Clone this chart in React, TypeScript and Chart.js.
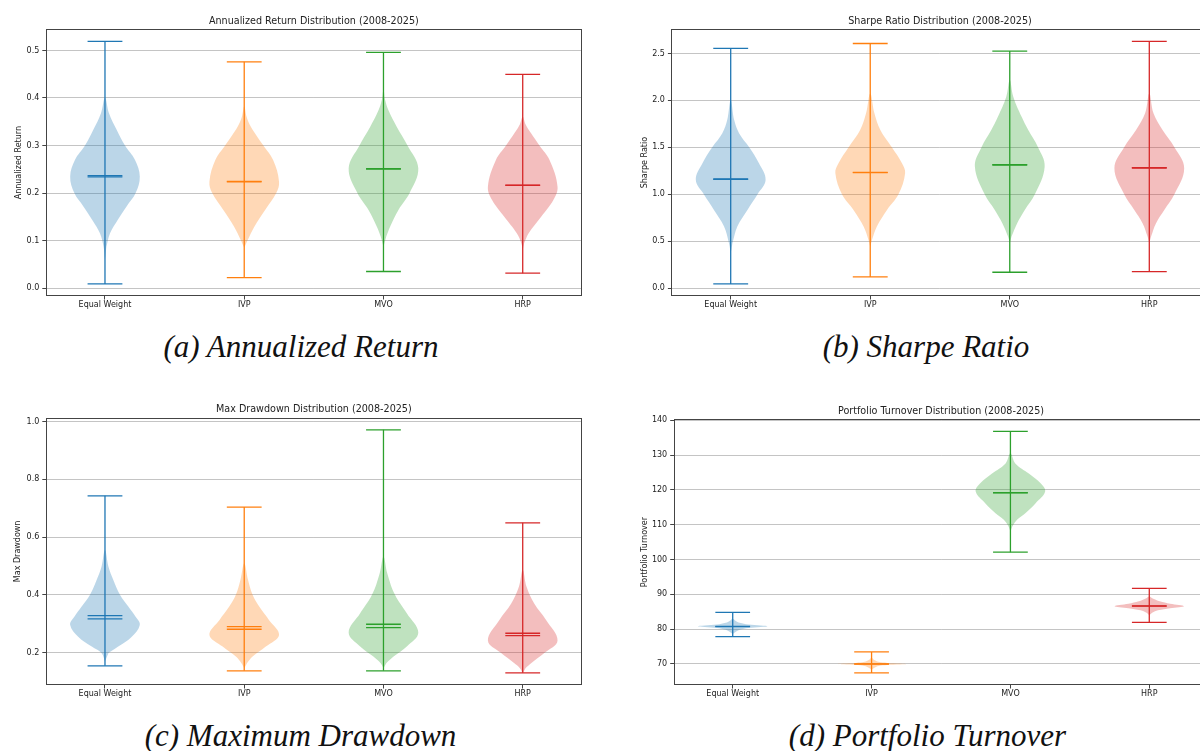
import React, { useEffect, useRef } from 'react';
import { Chart, registerables } from 'chart.js';

Chart.register(...registerables);

// ---------------- data ----------------
const strategies = ['Equal Weight', 'IVP', 'MVO', 'HRP'];
const positions = [1, 2, 3, 4];

// (a) Annualized Return
const returnMin = [0.009, 0.0223, 0.035, 0.0315];
const returnMax = [0.519, 0.476, 0.496, 0.4496];
const returnMean = [0.2365, 0.2248, 0.2513, 0.2168];
const returnMedian = [0.234, 0.2235, 0.2505, 0.216];
const returnLevels = [
  [0.06, 0.087, 0.1155, 0.1435, 0.172, 0.2, 0.235, 0.27, 0.3, 0.333, 0.368, 0.4],
  [0.085, 0.1015, 0.1294, 0.1645, 0.2, 0.224, 0.2695, 0.3, 0.3395, 0.36, 0.382],
  [0.087, 0.1085, 0.1294, 0.1645, 0.2, 0.252, 0.3, 0.3395, 0.3746, 0.395, 0.417],
  [0.08, 0.0945, 0.1155, 0.1504, 0.1855, 0.2135, 0.2695, 0.3, 0.3256, 0.345, 0.3605],
];
const returnWidths = [
  [0, 0.04, 0.145, 0.365, 0.62, 0.88, 1.0, 0.86, 0.575, 0.335, 0.115, 0],
  [0, 0.1, 0.29, 0.6, 0.92, 1.0, 0.83, 0.55, 0.19, 0.07, 0],
  [0, 0.08, 0.19, 0.43, 0.75, 1.0, 0.69, 0.38, 0.14, 0.05, 0],
  [0, 0.04, 0.17, 0.53, 0.88, 1.0, 0.77, 0.48, 0.24, 0.08, 0],
];
const returnTicks = [0, 0.1, 0.2, 0.3, 0.4, 0.5];
const returnTickLabels = ['0.0', '0.1', '0.2', '0.3', '0.4', '0.5'];

// (b) Sharpe Ratio
const sharpeMin = [0.046, 0.12, 0.17, 0.177];
const sharpeMax = [2.553, 2.606, 2.525, 2.628];
const sharpeMean = [1.163, 1.234, 1.316, 1.284];
const sharpeMedian = [1.158, 1.231, 1.312, 1.28];
const sharpeLevels = [
  [0.372, 0.479, 0.656, 0.833, 1.0, 1.152, 1.33, 1.5, 1.65, 1.79, 2.0],
  [0.443, 0.514, 0.656, 0.833, 1.0, 1.223, 1.33, 1.5, 1.684, 1.862, 2.074],
  [0.48, 0.55, 0.69, 0.833, 1.0, 1.294, 1.5, 1.684, 1.826, 2.04, 2.216],
  [0.48, 0.55, 0.69, 0.833, 1.0, 1.277, 1.5, 1.684, 1.862, 2.074],
];
const sharpeWidths = [
  [0, 0.05, 0.19, 0.48, 0.77, 1.0, 0.81, 0.53, 0.24, 0.1, 0],
  [0, 0.05, 0.19, 0.48, 0.81, 1.0, 0.91, 0.62, 0.29, 0.12, 0],
  [0, 0.05, 0.21, 0.43, 0.72, 1.0, 0.81, 0.53, 0.34, 0.1, 0],
  [0, 0.05, 0.19, 0.43, 0.72, 1.0, 0.72, 0.38, 0.12, 0],
];
const sharpeTicks = [0, 0.5, 1.0, 1.5, 2.0, 2.5];
const sharpeTickLabels = ['0.0', '0.5', '1.0', '1.5', '2.0', '2.5'];

// (c) Max Drawdown
const drawdownMin = [0.154, 0.1366, 0.1366, 0.1297];
const drawdownMax = [0.7426, 0.7035, 0.971, 0.649];
const drawdownMean = [0.3279, 0.29, 0.298, 0.2668];
const drawdownMedian = [0.3164, 0.2806, 0.2864, 0.2588];
const drawdownLevels = [
  [0.169, 0.198, 0.2207, 0.255, 0.2956, 0.324, 0.359, 0.4, 0.451, 0.497, 0.555],
  [0.146, 0.163, 0.186, 0.2207, 0.261, 0.313, 0.359, 0.4, 0.451, 0.509],
  [0.146, 0.163, 0.186, 0.2207, 0.269, 0.336, 0.4, 0.474, 0.532],
  [0.1286, 0.146, 0.163, 0.198, 0.2415, 0.313, 0.37, 0.428, 0.486],
];
const drawdownWidths = [
  [0, 0.1, 0.38, 0.77, 1.0, 0.88, 0.67, 0.43, 0.24, 0.1, 0],
  [0, 0.08, 0.24, 0.62, 1.0, 0.71, 0.43, 0.24, 0.11, 0],
  [0, 0.08, 0.29, 0.67, 1.0, 0.67, 0.33, 0.11, 0],
  [0, 0.08, 0.24, 0.62, 1.0, 0.67, 0.33, 0.11, 0],
];
const drawdownTicks = [0.2, 0.4, 0.6, 0.8, 1.0];
const drawdownTickLabels = ['0.2', '0.4', '0.6', '0.8', '1.0'];

// (d) Portfolio Turnover
const turnoverMin = [77.83, 67.42, 102.1, 81.94];
const turnoverMax = [84.8, 73.44, 136.8, 91.68];
const turnoverMean = [80.79, 70.0, 119.2, 86.7];
const turnoverMedian = [80.7, 69.95, 119.15, 86.6];
const turnoverLevels = [
  [78.6, 79.2, 79.8, 80.3, 80.8, 81.3, 81.8, 82.4, 83.0],
  [68.3, 68.9, 69.4, 69.7, 70.0, 70.3, 70.6, 71.1, 71.8],
  [108.0, 109.4, 111.4, 113.3, 116.1, 119.5, 121.9, 124.7, 127.6, 130.5],
  [84.0, 84.7, 85.4, 86.0, 86.6, 87.3, 88.0, 88.8, 89.4],
];
const turnoverWidths = [
  [0, 0.08, 0.2, 0.45, 1.0, 0.45, 0.2, 0.08, 0],
  [0, 0.08, 0.2, 0.45, 1.0, 0.45, 0.2, 0.08, 0],
  [0, 0.05, 0.19, 0.43, 0.72, 1.0, 0.87, 0.53, 0.14, 0],
  [0, 0.08, 0.25, 0.6, 1.0, 0.6, 0.3, 0.1, 0],
];
const turnoverTicks = [70, 80, 90, 100, 110, 120, 130, 140];
const turnoverTickLabels = ['70', '80', '90', '100', '110', '120', '130', '140'];

// ---------------- style ----------------
const COLORS = ['#1f77b4', '#ff7f0e', '#2ca02c', '#d62728'];
const BODY_COLORS = [
  'rgba(31,119,180,0.3)',
  'rgba(255,127,14,0.3)',
  'rgba(44,160,44,0.3)',
  'rgba(214,39,40,0.3)',
];
const HALF_WIDTH = 0.25;
const CAP_HALF = 0.125;
const FONT = 'DejaVu Sans';
const TEXT = '#222222';

type Box = { left: number; top: number; w: number; h: number };
type Area = { left: number; top: number; right: number; bottom: number };

type PanelSpec = {
  title: string;
  ylabel: string;
  min: number[];
  max: number[];
  mean: number[];
  median: number[];
  levels: number[][];
  widths: number[][];
  ticks: number[];
  tickLabels: string[];
  box: Box;
  area: Area;
  ylabelX: number;
  titleY: number;
};

const panels: PanelSpec[] = [
  {
    title: 'Annualized Return Distribution (2008-2025)',
    ylabel: 'Annualized Return',
    min: returnMin, max: returnMax, mean: returnMean, median: returnMedian,
    levels: returnLevels, widths: returnWidths,
    ticks: returnTicks, tickLabels: returnTickLabels,
    box: { left: 0, top: 0, w: 600, h: 320 },
    area: { left: 45.8, top: 29.3, right: 581.9, bottom: 296 },
    ylabelX: 18.5, titleY: 21,
  },
  {
    title: 'Sharpe Ratio Distribution (2008-2025)',
    ylabel: 'Sharpe Ratio',
    min: sharpeMin, max: sharpeMax, mean: sharpeMean, median: sharpeMedian,
    levels: sharpeLevels, widths: sharpeWidths,
    ticks: sharpeTicks, tickLabels: sharpeTickLabels,
    box: { left: 600, top: 0, w: 620, h: 320 },
    area: { left: 71.4, top: 29.3, right: 608.6, bottom: 296 },
    ylabelX: 44.8, titleY: 21,
  },
  {
    title: 'Max Drawdown Distribution (2008-2025)',
    ylabel: 'Max Drawdown',
    min: drawdownMin, max: drawdownMax, mean: drawdownMean, median: drawdownMedian,
    levels: drawdownLevels, widths: drawdownWidths,
    ticks: drawdownTicks, tickLabels: drawdownTickLabels,
    box: { left: 0, top: 390, w: 600, h: 320 },
    area: { left: 45.8, top: 27.7, right: 581.9, bottom: 295 },
    ylabelX: 18.4, titleY: 19,
  },
  {
    title: 'Portfolio Turnover Distribution (2008-2025)',
    ylabel: 'Portfolio Turnover',
    min: turnoverMin, max: turnoverMax, mean: turnoverMean, median: turnoverMedian,
    levels: turnoverLevels, widths: turnoverWidths,
    ticks: turnoverTicks, tickLabels: turnoverTickLabels,
    box: { left: 600, top: 390, w: 620, h: 320 },
    area: { left: 73.7, top: 29.3, right: 608.3, bottom: 295 },
    ylabelX: 44.8, titleY: 21,
  },
];

const captions = [
  { text: '(a) Annualized Return', cx: 301, top: 331 },
  { text: '(b) Sharpe Ratio', cx: 926, top: 331 },
  { text: '(c) Maximum Drawdown', cx: 300.5, top: 720 },
  { text: '(d) Portfolio Turnover', cx: 927.5, top: 720 },
];

// ---------------- chart config ----------------
function segment(points: { x: number; y: number }[], color: string) {
  return {
    type: 'line' as const,
    data: points,
    borderColor: color,
    borderWidth: 1.3,
    pointRadius: 0,
    pointHoverRadius: 0,
    fill: false,
    tension: 0,
    order: 0,
  };
}

function buildConfig(p: PanelSpec): any {
  const datasets: any[] = [];
  positions.forEach((pos, i) => {
    const lv = p.levels[i];
    const w = p.widths[i];
    const left = lv.map((v, k) => ({ x: pos - w[k] * HALF_WIDTH, y: v }));
    const right: { x: number; y: number }[] = [];
    for (let k = lv.length - 2; k >= 1; k--) right.push({ x: pos + w[k] * HALF_WIDTH, y: lv[k] });
    datasets.push({
      type: 'line',
      data: [...left, ...right],
      fill: 'shape',
      backgroundColor: BODY_COLORS[i],
      borderColor: 'rgba(0,0,0,0)',
      borderWidth: 0,
      pointRadius: 0,
      pointHoverRadius: 0,
      tension: 0.38,
      order: 2,
    });
    const c = COLORS[i];
    datasets.push(segment([{ x: pos, y: p.min[i] }, { x: pos, y: p.max[i] }], c));
    datasets.push(segment([{ x: pos - CAP_HALF, y: p.min[i] }, { x: pos + CAP_HALF, y: p.min[i] }], c));
    datasets.push(segment([{ x: pos - CAP_HALF, y: p.max[i] }, { x: pos + CAP_HALF, y: p.max[i] }], c));
    datasets.push(segment([{ x: pos - CAP_HALF, y: p.mean[i] }, { x: pos + CAP_HALF, y: p.mean[i] }], c));
    datasets.push(segment([{ x: pos - CAP_HALF, y: p.median[i] }, { x: pos + CAP_HALF, y: p.median[i] }], c));
  });

  const lo = Math.min(...p.min);
  const hi = Math.max(...p.max);
  const margin = (hi - lo) * 0.05;
  const xLo = positions[0] - HALF_WIDTH;
  const xHi = positions[positions.length - 1] + HALF_WIDTH;
  const xMargin = (xHi - xLo) * 0.05;

  const titleFont = { family: FONT, size: 9.6, weight: 'normal' as const, lineHeight: 1.2 };
  const titleLH = 9.6 * 1.2;

  const framePlugin = {
    id: 'frame',
    afterDraw(chart: any) {
      const { ctx, chartArea } = chart;
      ctx.save();
      ctx.strokeStyle = '#444444';
      ctx.lineWidth = 1;
      const l = Math.round(chartArea.left) + 0.5;
      const t = Math.round(chartArea.top) + 0.5;
      const r = Math.round(chartArea.right) - 0.5;
      const b = Math.round(chartArea.bottom) - 0.5;
      ctx.strokeRect(l, t, r - l, b - t);
      ctx.restore();
    },
  };

  return {
    type: 'line',
    data: { datasets },
    plugins: [framePlugin],
    options: {
      animation: false,
      responsive: false,
      events: [],
      layout: {
        padding: { left: 0, top: 0, bottom: 0, right: p.box.w - p.area.right },
      },
      plugins: {
        legend: { display: false },
        tooltip: { enabled: false },
        title: {
          display: true,
          text: p.title,
          color: TEXT,
          font: titleFont,
          fullSize: false,
          padding: { top: p.titleY - titleLH / 2, bottom: p.area.top - p.titleY - titleLH / 2 },
        },
      },
      scales: {
        x: {
          type: 'linear',
          min: xLo - xMargin,
          max: xHi + xMargin,
          afterBuildTicks: (s: any) => {
            s.ticks = positions.map((v) => ({ value: v }));
          },
          afterFit: (s: any) => {
            s.height = p.box.h - p.area.bottom;
          },
          ticks: {
            callback: (_v: any, i: number) => strategies[i],
            color: TEXT,
            font: { family: FONT, size: 8 },
            padding: 1,
            maxRotation: 0,
            autoSkip: false,
          },
          grid: {
            drawOnChartArea: false,
            drawTicks: true,
            tickLength: 3.5,
            tickColor: '#444444',
            tickWidth: 1,
          },
          border: { display: false },
        },
        y: {
          type: 'linear',
          min: lo - margin,
          max: hi + margin,
          afterBuildTicks: (s: any) => {
            s.ticks = p.ticks.map((v) => ({ value: v }));
          },
          afterFit: (s: any) => {
            s.width = p.area.left;
          },
          ticks: {
            callback: (_v: any, i: number) => p.tickLabels[i],
            color: TEXT,
            font: { family: FONT, size: 8 },
            padding: 3,
            autoSkip: false,
          },
          grid: {
            color: 'rgba(176,176,176,0.75)',
            lineWidth: 1,
            drawTicks: true,
            tickLength: 3.5,
            tickColor: '#444444',
            tickWidth: 1,
          },
          border: { display: false },
          title: {
            display: true,
            text: p.ylabel,
            color: TEXT,
            font: { family: FONT, size: 8, lineHeight: 1.2 },
            padding: { top: p.ylabelX - 4.8, bottom: 0 },
          },
        },
      },
    },
  };
}

function ViolinPanel({ spec }: { spec: PanelSpec }) {
  const ref = useRef<HTMLCanvasElement>(null);
  useEffect(() => {
    if (!ref.current) return;
    const chart = new Chart(ref.current, buildConfig(spec));
    return () => chart.destroy();
  }, [spec]);
  return (
    <canvas
      ref={ref}
      width={spec.box.w}
      height={spec.box.h}
      style={{
        position: 'absolute',
        left: spec.box.left,
        top: spec.box.top,
        width: spec.box.w,
        height: spec.box.h,
      }}
    />
  );
}

export default function App() {
  return (
    <div
      style={{
        position: 'fixed',
        left: 0,
        top: 0,
        width: 1200,
        height: 751,
        overflow: 'hidden',
        background: '#ffffff',
      }}
    >
      {panels.map((p, i) => (
        <ViolinPanel key={i} spec={p} />
      ))}
      {captions.map((c, i) => (
        <div
          key={'cap' + i}
          style={{
            position: 'absolute',
            left: c.cx - 250,
            width: 500,
            top: c.top,
            textAlign: 'center',
            fontFamily: '"Liberation Serif", serif',
            fontStyle: 'italic',
            fontSize: 31,
            lineHeight: '31px',
            color: '#111111',
            whiteSpace: 'nowrap',
          }}
        >
          {c.text}
        </div>
      ))}
    </div>
  );
}
